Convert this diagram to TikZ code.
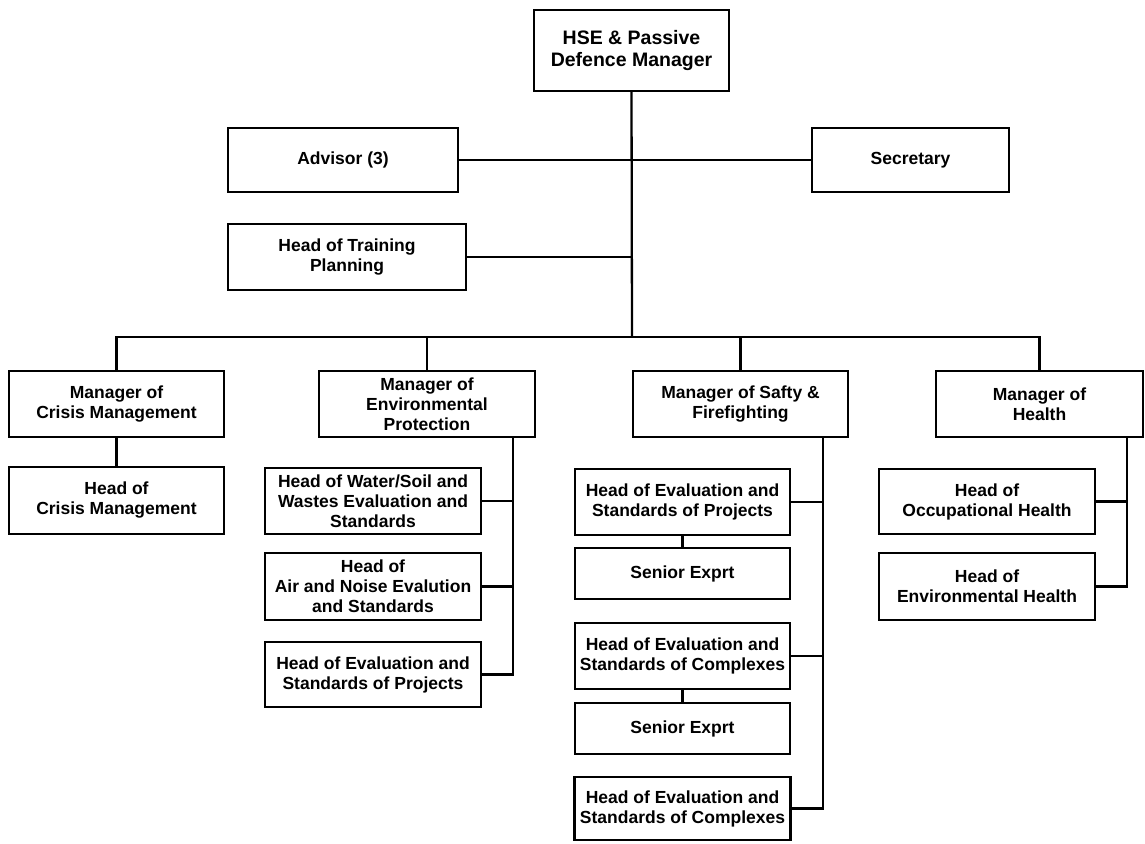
\documentclass[tikz,border=0pt]{standalone}
\usepackage{fontspec}
\setmainfont{Liberation Sans}
\begin{document}
\begin{tikzpicture}[x=1pt,y=-1pt,
  box/.style={draw,line width=2.3pt,rectangle,align=center,inner sep=1pt,
    font=\fontsize{17.5}{20}\selectfont\bfseries},
  conn/.style={line width=2.3pt}]
\useasboundingbox (0,0) rectangle (1145,843);
% top
\node[box,minimum width=195,minimum height=81,font=\fontsize{19.5}{22.5}\selectfont\bfseries] (top) at (631.5,50.5) {HSE \& Passive\\Defence Manager};
\node[box,minimum width=230,minimum height=64] (adv) at (343,160) {Advisor (3)};
\node[box,minimum width=197,minimum height=64] (sec) at (910.5,160) {Secretary};
\node[box,minimum width=238,minimum height=66] (train) at (347,257) {Head of Training\\Planning};
\coordinate (hub) at (632,337);
% managers
\node[box,minimum width=215,minimum height=66] (mcm) at (116.5,404) {Manager of\\Crisis Management};
\node[box,minimum width=216,minimum height=66] (menv) at (427,404) {Manager of\\Environmental\\Protection};
\node[box,minimum width=215,minimum height=66] (msf) at (740.5,404) {Manager of Safty \&\\Firefighting};
\node[box,minimum width=207,minimum height=66] (mh) at (1039.5,404) {Manager of\\Health};
% crisis
\node[box,minimum width=215,minimum height=67] (hcm) at (116.5,500.5) {Head of\\Crisis Management};
% environment
\node[box,minimum width=216,minimum height=66] (hws) at (373,501) {Head of Water/Soil and\\Wastes Evaluation and\\Standards};
\node[box,minimum width=216,minimum height=67] (han) at (373,586.5) {Head of\\Air and Noise Evalution\\and Standards};
\node[box,minimum width=216,minimum height=65] (hep) at (373,674.5) {Head of Evaluation and\\Standards of Projects};
% safety
\node[box,minimum width=215,minimum height=66] (hsp) at (682.5,502) {Head of Evaluation and\\Standards of Projects};
\node[box,minimum width=215,minimum height=51] (se1) at (682.5,573.5) {Senior Exprt};
\node[box,minimum width=215,minimum height=66] (hsc) at (682.5,656) {Head of Evaluation and\\Standards of Complexes};
\node[box,minimum width=215,minimum height=51] (se2) at (682.5,728.5) {Senior Exprt};
\node[box,minimum width=216,minimum height=63] (hsc2) at (682.5,808.5) {Head of Evaluation and\\Standards of Complexes};
% health
\node[box,minimum width=216,minimum height=65] (hoh) at (987,501.5) {Head of\\Occupational Health};
\node[box,minimum width=216,minimum height=67] (heh) at (987,586.5) {Head of\\Environmental Health};
% connectors
\draw[conn] (top.south) -- (hub);
\draw[conn] (adv.east) -- (sec.west);
\draw[conn] (train.east) -- (train.east -| hub);
\draw[conn] (mcm.north) |- (hub -| mh.north) -- (mh.north);
\draw[conn] (menv.north) -- (menv.north |- hub);
\draw[conn] (msf.north) -- (msf.north |- hub);
\draw[conn] (mcm.south) -- (hcm.north);
\coordinate (envx) at (513,437);
\draw[conn] (envx) |- (hep.east);
\draw[conn] (hws.east) -- (hws.east -| envx);
\draw[conn] (han.east) -- (han.east -| envx);
\coordinate (sfx) at (823,437);
\draw[conn] (sfx) |- (hsc2.east);
\draw[conn] (hsp.east) -- (hsp.east -| sfx);
\draw[conn] (hsc.east) -- (hsc.east -| sfx);
\draw[conn] (hsp.south) -- (se1.north);
\draw[conn] (hsc.south) -- (se2.north);
\coordinate (hx) at (1127,437);
\draw[conn] (hx) |- (heh.east);
\draw[conn] (hoh.east) -- (hoh.east -| hx);
\end{tikzpicture}
\end{document}
